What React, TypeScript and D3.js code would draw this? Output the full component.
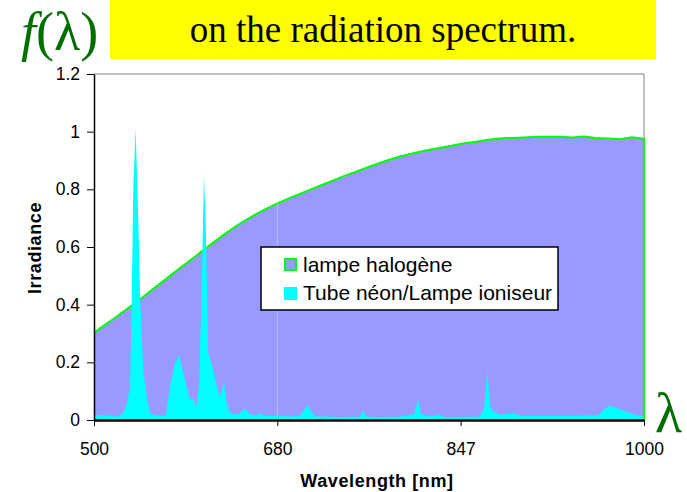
import React, { useRef, useEffect } from "react";
import * as d3 from "d3";

// halogen lamp, sampled every 10 nm
const wavelengths = [
  500, 510, 520, 530, 540, 550, 560, 570, 580, 590, 600, 610, 620, 630, 640, 650, 660,
  670, 680, 690, 700, 710, 720, 730, 740, 750, 760, 770, 780, 790, 800, 810, 820, 830,
  840, 850, 860, 870, 880, 890, 900, 910, 920, 930, 940, 950, 960, 970, 980, 990, 1000,
];
const halogen = [
  0.302, 0.328, 0.353, 0.379, 0.405, 0.432, 0.46, 0.487, 0.515, 0.542, 0.569, 0.596,
  0.623, 0.649, 0.673, 0.695, 0.716, 0.734, 0.751, 0.768, 0.783, 0.799, 0.814, 0.829,
  0.845, 0.859, 0.873, 0.887, 0.9, 0.912, 0.922, 0.93, 0.938, 0.945, 0.952, 0.96, 0.965,
  0.972, 0.976, 0.978, 0.98, 0.982, 0.982, 0.982, 0.98, 0.983, 0.978, 0.976, 0.974,
  0.981, 0.975,
];

// neon tube, irregular samples around the lines
const neonWl = [
  500, 505.9, 515.7, 523.6, 527.5, 529.5, 532.4, 535.4, 537.0, 538.6, 540.9, 543.5,
  545.2, 548.4, 551.8, 555.0, 559.9, 569.7, 570.7, 574.6, 579.5, 583.5, 587.7, 591.0,
  594.3, 597.5, 600.9, 603.4, 605.8, 608.0, 610.0, 612.2, 614.9, 617.2, 620.5, 623.7,
  627.7, 630.3, 633.6, 641.4, 648.3, 653.2, 658.1, 663.0, 666.9, 680, 691.6, 700.7,
  704.3, 707.1, 710.7, 714.3, 726.2, 737.1, 755.3, 758.3, 760.8, 773.6, 791.8, 804.6,
  808.2, 811.0, 819.2, 828.3, 832.9, 863.1, 866.5, 869.2, 871.5, 874.0, 879.8, 890.7,
  896.5, 929.9, 961.6, 967.5, 971.7, 980.0, 990.9, 1000,
];
const neonVal = [
  0.018, 0.017, 0.015, 0.012, 0.02, 0.03, 0.058, 0.115, 0.405, 0.81, 1.01, 0.69, 0.43,
  0.17, 0.08, 0.024, 0.015, 0.015, 0.02, 0.116, 0.197, 0.225, 0.162, 0.116, 0.07, 0.075,
  0.046, 0.139, 0.462, 0.85, 0.636, 0.232, 0.2, 0.173, 0.116, 0.08, 0.133, 0.058, 0.024,
  0.018, 0.04, 0.02, 0.015, 0.023, 0.015, 0.015, 0.012, 0.015, 0.035, 0.052, 0.03,
  0.012, 0.012, 0.01, 0.012, 0.032, 0.012, 0.01, 0.012, 0.02, 0.072, 0.02, 0.012, 0.017,
  0.01, 0.012, 0.04, 0.173, 0.05, 0.03, 0.018, 0.024, 0.015, 0.015, 0.016, 0.04, 0.049,
  0.037, 0.02, 0.012,
];

const xTicks = [500, 680, 847, 1000];
const yTicks = [0, 0.2, 0.4, 0.6, 0.8, 1, 1.2];
const legendLabels = ["lampe halogène", "Tube néon/Lampe ioniseur"];

const W = 687;
const H = 492;
const left = 94;
const right = 644;
const top = 74;
const bottom = 420;

export default function App() {
  const ref = useRef<SVGGElement>(null);

  // category-like axis: labels evenly spaced
  const x = d3
    .scaleLinear()
    .domain(xTicks)
    .range(xTicks.map((_, i) => left + ((right - left) * i) / (xTicks.length - 1)));
  const y = d3.scaleLinear().domain([0, 1.2]).range([bottom, top]);

  const halData = wavelengths.map((w, i) => [w, halogen[i]] as [number, number]);
  const neonData = neonWl.map((w, i) => [w, neonVal[i]] as [number, number]);

  const area = d3
    .area<[number, number]>()
    .x((d) => x(d[0]))
    .y0(y(0))
    .y1((d) => y(d[1]));
  const line = d3
    .line<[number, number]>()
    .x((d) => x(d[0]))
    .y((d) => y(d[1]));
  const outline = line(halData) + `L${x(1000)},${y(0)}`;

  useEffect(() => {
    const g = d3.select(ref.current);
    g.selectAll("*").remove();

    const ya = g
      .append("g")
      .attr("transform", `translate(${left},0)`)
      .call(
        d3
          .axisLeft(y)
          .tickValues(yTicks)
          .tickSize(7)
          .tickSizeOuter(0)
          .tickPadding(7)
          .tickFormat((d) => String(+(+d).toFixed(1)))
      );
    ya.select(".domain").attr("stroke", "#000").attr("stroke-width", 1.5);

    const xa = g
      .append("g")
      .attr("transform", `translate(0,${bottom})`)
      .call(
        d3
          .axisBottom(x)
          .tickValues(xTicks)
          .tickSize(6)
          .tickSizeOuter(0)
          .tickPadding(17)
          .tickFormat((d) => String(d))
      );
    xa.select(".domain").attr("stroke", "#000").attr("stroke-width", 2.5);

    g.selectAll(".tick text")
      .attr("font-family", "'Liberation Sans', Arial, sans-serif")
      .attr("font-size", 17.5)
      .attr("fill", "#000");
    g.selectAll(".tick line").attr("stroke", "#000");
  }, []);

  return (
    <svg
      width={W}
      height={H}
      style={{ position: "absolute", left: 0, top: 0, background: "#fff" }}
    >
      {/* title box */}
      <rect x={110} y={0} width={546} height={59} fill="#ffff00" />
      <text
        x={383}
        y={42}
        textAnchor="middle"
        fontFamily="'Liberation Serif', 'Times New Roman', serif"
        fontSize={37}
        fill="#000"
      >
        on the radiation spectrum.
      </text>
      <text
        x={21}
        y={50}
        fontFamily="'Liberation Serif', 'Times New Roman', serif"
        fontSize={54}
        fill="#006f00"
      >
        <tspan fontStyle="italic">f</tspan>(λ)
      </text>
      <text
        x={655}
        y={432}
        fontFamily="'Liberation Serif', 'Times New Roman', serif"
        fontSize={56}
        fill="#006f00"
      >
        λ
      </text>

      {/* plot frame */}
      <path
        d={`M${left},${top}H${right}V${bottom}`}
        fill="none"
        stroke="#808080"
        strokeWidth={1}
      />

      <path d={area(halData) ?? ""} fill="#9999ff" />
      <path d={outline} fill="none" stroke="#00ff00" strokeWidth={2} />
      <path d={area(neonData) ?? ""} fill="#00ffff" />
      <line
        x1={x(680)}
        x2={x(680)}
        y1={top}
        y2={bottom}
        stroke="#fff"
        strokeOpacity={0.35}
      />

      <g ref={ref} />

      {/* axis titles */}
      <text
        x={377}
        y={487}
        textAnchor="middle"
        fontFamily="'Liberation Sans', Arial, sans-serif"
        fontWeight="bold"
        fontSize={18}
        letterSpacing={0.6}
      >
        Wavelength [nm]
      </text>
      <text
        transform="translate(41,248) rotate(-90)"
        textAnchor="middle"
        fontFamily="'Liberation Sans', Arial, sans-serif"
        fontWeight="bold"
        fontSize={18}
        letterSpacing={0.6}
      >
        Irradiance
      </text>

      {/* legend */}
      <rect x={261} y={247} width={297} height={63} fill="#fff" stroke="#000" strokeWidth={1.5} />
      <rect x={285} y={259} width={11} height={11} fill="#9999ff" stroke="#00ff00" strokeWidth={2} />
      <rect x={284} y={287} width={13} height={13} fill="#00ffff" />
      {legendLabels.map((t, i) => (
        <text
          key={t}
          x={303}
          y={272 + i * 28}
          fontFamily="'Liberation Sans', Arial, sans-serif"
          fontSize={21}
          fill="#000"
        >
          {t}
        </text>
      ))}
    </svg>
  );
}
